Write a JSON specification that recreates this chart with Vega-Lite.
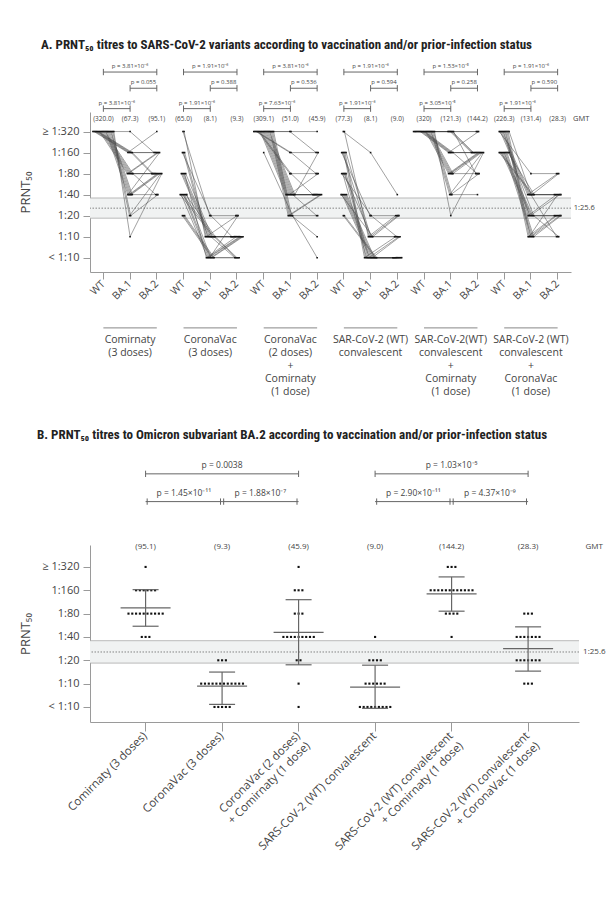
{
"$schema":"https://vega.github.io/schema/vega-lite/v6.json",
"background":"white",
"padding":{"left":19,"top":39,"right":4,"bottom":4},
"config":{
 "font":"Open Sans",
 "view":{"stroke":null},
 "axis":{"domainColor":"#9a9a9a","tickColor":"#9a9a9a","labelColor":"#444","titleColor":"#444","labelFont":"Open Sans","titleFont":"Open Sans","titleFontWeight":"normal","grid":false,"labelFontSize":11,"titleFontSize":13},
 "title":{"font":"Roboto Condensed","fontWeight":"bold","fontSize":13,"color":"#222","anchor":"start","frame":"group"},
 "text":{"font":"Open Sans","color":"#444"}
},
"spacing":30,
"resolve":{"scale":{"xOffset":"independent","x":"independent","y":"independent"}},
"datasets":{
"tit":[
{"i":1,"k":"1 WT","t":320},{"i":1,"k":"1 BA.1","t":320},{"i":1,"k":"1 BA.2","t":160},
{"i":2,"k":"1 WT","t":320},{"i":2,"k":"1 BA.1","t":160},{"i":2,"k":"1 BA.2","t":320},
{"i":3,"k":"1 WT","t":320},{"i":3,"k":"1 BA.1","t":160},{"i":3,"k":"1 BA.2","t":160},
{"i":4,"k":"1 WT","t":320},{"i":4,"k":"1 BA.1","t":160},{"i":4,"k":"1 BA.2","t":160},
{"i":5,"k":"1 WT","t":320},{"i":5,"k":"1 BA.1","t":160},{"i":5,"k":"1 BA.2","t":80},
{"i":6,"k":"1 WT","t":320},{"i":6,"k":"1 BA.1","t":160},{"i":6,"k":"1 BA.2","t":80},
{"i":7,"k":"1 WT","t":320},{"i":7,"k":"1 BA.1","t":80},{"i":7,"k":"1 BA.2","t":160},
{"i":8,"k":"1 WT","t":320},{"i":8,"k":"1 BA.1","t":80},{"i":8,"k":"1 BA.2","t":160},
{"i":9,"k":"1 WT","t":320},{"i":9,"k":"1 BA.1","t":80},{"i":9,"k":"1 BA.2","t":80},
{"i":10,"k":"1 WT","t":320},{"i":10,"k":"1 BA.1","t":80},{"i":10,"k":"1 BA.2","t":80},
{"i":11,"k":"1 WT","t":320},{"i":11,"k":"1 BA.1","t":80},{"i":11,"k":"1 BA.2","t":80},
{"i":12,"k":"1 WT","t":320},{"i":12,"k":"1 BA.1","t":80},{"i":12,"k":"1 BA.2","t":40},
{"i":13,"k":"1 WT","t":320},{"i":13,"k":"1 BA.1","t":40},{"i":13,"k":"1 BA.2","t":160},
{"i":14,"k":"1 WT","t":320},{"i":14,"k":"1 BA.1","t":40},{"i":14,"k":"1 BA.2","t":80},
{"i":15,"k":"1 WT","t":320},{"i":15,"k":"1 BA.1","t":40},{"i":15,"k":"1 BA.2","t":80},
{"i":16,"k":"1 WT","t":320},{"i":16,"k":"1 BA.1","t":40},{"i":16,"k":"1 BA.2","t":80},
{"i":17,"k":"1 WT","t":320},{"i":17,"k":"1 BA.1","t":40},{"i":17,"k":"1 BA.2","t":40},
{"i":18,"k":"1 WT","t":320},{"i":18,"k":"1 BA.1","t":20},{"i":18,"k":"1 BA.2","t":80},
{"i":19,"k":"1 WT","t":320},{"i":19,"k":"1 BA.1","t":20},{"i":19,"k":"1 BA.2","t":40},
{"i":20,"k":"1 WT","t":320},{"i":20,"k":"1 BA.1","t":10},{"i":20,"k":"1 BA.2","t":80},
{"i":21,"k":"2 WT","t":320},{"i":21,"k":"2 BA.1","t":20},{"i":21,"k":"2 BA.2","t":20},
{"i":22,"k":"2 WT","t":320},{"i":22,"k":"2 BA.1","t":10},{"i":22,"k":"2 BA.2","t":10},
{"i":23,"k":"2 WT","t":160},{"i":23,"k":"2 BA.1","t":20},{"i":23,"k":"2 BA.2","t":10},
{"i":24,"k":"2 WT","t":160},{"i":24,"k":"2 BA.1","t":10},{"i":24,"k":"2 BA.2","t":20},
{"i":25,"k":"2 WT","t":160},{"i":25,"k":"2 BA.1","t":10},{"i":25,"k":"2 BA.2","t":10},
{"i":26,"k":"2 WT","t":80},{"i":26,"k":"2 BA.1","t":10},{"i":26,"k":"2 BA.2","t":10},
{"i":27,"k":"2 WT","t":80},{"i":27,"k":"2 BA.1","t":10},{"i":27,"k":"2 BA.2","t":10},
{"i":28,"k":"2 WT","t":80},{"i":28,"k":"2 BA.1","t":10},{"i":28,"k":"2 BA.2","t":5},
{"i":29,"k":"2 WT","t":80},{"i":29,"k":"2 BA.1","t":5},{"i":29,"k":"2 BA.2","t":10},
{"i":30,"k":"2 WT","t":80},{"i":30,"k":"2 BA.1","t":10},{"i":30,"k":"2 BA.2","t":10},
{"i":31,"k":"2 WT","t":40},{"i":31,"k":"2 BA.1","t":10},{"i":31,"k":"2 BA.2","t":10},
{"i":32,"k":"2 WT","t":40},{"i":32,"k":"2 BA.1","t":5},{"i":32,"k":"2 BA.2","t":10},
{"i":33,"k":"2 WT","t":40},{"i":33,"k":"2 BA.1","t":10},{"i":33,"k":"2 BA.2","t":5},
{"i":34,"k":"2 WT","t":40},{"i":34,"k":"2 BA.1","t":5},{"i":34,"k":"2 BA.2","t":10},
{"i":35,"k":"2 WT","t":40},{"i":35,"k":"2 BA.1","t":5},{"i":35,"k":"2 BA.2","t":20},
{"i":36,"k":"2 WT","t":40},{"i":36,"k":"2 BA.1","t":10},{"i":36,"k":"2 BA.2","t":5},
{"i":37,"k":"2 WT","t":40},{"i":37,"k":"2 BA.1","t":5},{"i":37,"k":"2 BA.2","t":10},
{"i":38,"k":"2 WT","t":20},{"i":38,"k":"2 BA.1","t":5},{"i":38,"k":"2 BA.2","t":10},
{"i":39,"k":"2 WT","t":20},{"i":39,"k":"2 BA.1","t":5},{"i":39,"k":"2 BA.2","t":5},
{"i":40,"k":"2 WT","t":20},{"i":40,"k":"2 BA.1","t":5},{"i":40,"k":"2 BA.2","t":5},
{"i":41,"k":"3 WT","t":320},{"i":41,"k":"3 BA.1","t":320},{"i":41,"k":"3 BA.2","t":160},
{"i":42,"k":"3 WT","t":320},{"i":42,"k":"3 BA.1","t":320},{"i":42,"k":"3 BA.2","t":320},
{"i":43,"k":"3 WT","t":320},{"i":43,"k":"3 BA.1","t":160},{"i":43,"k":"3 BA.2","t":160},
{"i":44,"k":"3 WT","t":320},{"i":44,"k":"3 BA.1","t":160},{"i":44,"k":"3 BA.2","t":80},
{"i":45,"k":"3 WT","t":320},{"i":45,"k":"3 BA.1","t":80},{"i":45,"k":"3 BA.2","t":80},
{"i":46,"k":"3 WT","t":320},{"i":46,"k":"3 BA.1","t":80},{"i":46,"k":"3 BA.2","t":40},
{"i":47,"k":"3 WT","t":320},{"i":47,"k":"3 BA.1","t":40},{"i":47,"k":"3 BA.2","t":40},
{"i":48,"k":"3 WT","t":320},{"i":48,"k":"3 BA.1","t":40},{"i":48,"k":"3 BA.2","t":40},
{"i":49,"k":"3 WT","t":320},{"i":49,"k":"3 BA.1","t":40},{"i":49,"k":"3 BA.2","t":40},
{"i":50,"k":"3 WT","t":320},{"i":50,"k":"3 BA.1","t":40},{"i":50,"k":"3 BA.2","t":80},
{"i":51,"k":"3 WT","t":320},{"i":51,"k":"3 BA.1","t":40},{"i":51,"k":"3 BA.2","t":40},
{"i":52,"k":"3 WT","t":320},{"i":52,"k":"3 BA.1","t":40},{"i":52,"k":"3 BA.2","t":40},
{"i":53,"k":"3 WT","t":320},{"i":53,"k":"3 BA.1","t":40},{"i":53,"k":"3 BA.2","t":20},
{"i":54,"k":"3 WT","t":320},{"i":54,"k":"3 BA.1","t":40},{"i":54,"k":"3 BA.2","t":40},
{"i":55,"k":"3 WT","t":320},{"i":55,"k":"3 BA.1","t":40},{"i":55,"k":"3 BA.2","t":160},
{"i":56,"k":"3 WT","t":320},{"i":56,"k":"3 BA.1","t":20},{"i":56,"k":"3 BA.2","t":40},
{"i":57,"k":"3 WT","t":320},{"i":57,"k":"3 BA.1","t":20},{"i":57,"k":"3 BA.2","t":40},
{"i":58,"k":"3 WT","t":320},{"i":58,"k":"3 BA.1","t":20},{"i":58,"k":"3 BA.2","t":20},
{"i":59,"k":"3 WT","t":320},{"i":59,"k":"3 BA.1","t":20},{"i":59,"k":"3 BA.2","t":10},
{"i":60,"k":"3 WT","t":160},{"i":60,"k":"3 BA.1","t":20},{"i":60,"k":"3 BA.2","t":5},
{"i":61,"k":"4 WT","t":320},{"i":61,"k":"4 BA.1","t":160},{"i":61,"k":"4 BA.2","t":40},
{"i":62,"k":"4 WT","t":320},{"i":62,"k":"4 BA.1","t":10},{"i":62,"k":"4 BA.2","t":20},
{"i":63,"k":"4 WT","t":160},{"i":63,"k":"4 BA.1","t":20},{"i":63,"k":"4 BA.2","t":20},
{"i":64,"k":"4 WT","t":160},{"i":64,"k":"4 BA.1","t":10},{"i":64,"k":"4 BA.2","t":10},
{"i":65,"k":"4 WT","t":160},{"i":65,"k":"4 BA.1","t":5},{"i":65,"k":"4 BA.2","t":10},
{"i":66,"k":"4 WT","t":160},{"i":66,"k":"4 BA.1","t":5},{"i":66,"k":"4 BA.2","t":5},
{"i":67,"k":"4 WT","t":160},{"i":67,"k":"4 BA.1","t":10},{"i":67,"k":"4 BA.2","t":20},
{"i":68,"k":"4 WT","t":80},{"i":68,"k":"4 BA.1","t":20},{"i":68,"k":"4 BA.2","t":10},
{"i":69,"k":"4 WT","t":80},{"i":69,"k":"4 BA.1","t":5},{"i":69,"k":"4 BA.2","t":5},
{"i":70,"k":"4 WT","t":80},{"i":70,"k":"4 BA.1","t":10},{"i":70,"k":"4 BA.2","t":10},
{"i":71,"k":"4 WT","t":80},{"i":71,"k":"4 BA.1","t":5},{"i":71,"k":"4 BA.2","t":5},
{"i":72,"k":"4 WT","t":80},{"i":72,"k":"4 BA.1","t":5},{"i":72,"k":"4 BA.2","t":10},
{"i":73,"k":"4 WT","t":40},{"i":73,"k":"4 BA.1","t":10},{"i":73,"k":"4 BA.2","t":20},
{"i":74,"k":"4 WT","t":40},{"i":74,"k":"4 BA.1","t":5},{"i":74,"k":"4 BA.2","t":5},
{"i":75,"k":"4 WT","t":40},{"i":75,"k":"4 BA.1","t":5},{"i":75,"k":"4 BA.2","t":5},
{"i":76,"k":"4 WT","t":40},{"i":76,"k":"4 BA.1","t":5},{"i":76,"k":"4 BA.2","t":10},
{"i":77,"k":"4 WT","t":40},{"i":77,"k":"4 BA.1","t":5},{"i":77,"k":"4 BA.2","t":5},
{"i":78,"k":"4 WT","t":40},{"i":78,"k":"4 BA.1","t":5},{"i":78,"k":"4 BA.2","t":5},
{"i":79,"k":"4 WT","t":20},{"i":79,"k":"4 BA.1","t":5},{"i":79,"k":"4 BA.2","t":5},
{"i":80,"k":"4 WT","t":20},{"i":80,"k":"4 BA.1","t":5},{"i":80,"k":"4 BA.2","t":5},
{"i":81,"k":"5 WT","t":320},{"i":81,"k":"5 BA.1","t":320},{"i":81,"k":"5 BA.2","t":320},
{"i":82,"k":"5 WT","t":320},{"i":82,"k":"5 BA.1","t":320},{"i":82,"k":"5 BA.2","t":320},
{"i":83,"k":"5 WT","t":320},{"i":83,"k":"5 BA.1","t":320},{"i":83,"k":"5 BA.2","t":160},
{"i":84,"k":"5 WT","t":320},{"i":84,"k":"5 BA.1","t":320},{"i":84,"k":"5 BA.2","t":160},
{"i":85,"k":"5 WT","t":320},{"i":85,"k":"5 BA.1","t":320},{"i":85,"k":"5 BA.2","t":160},
{"i":86,"k":"5 WT","t":320},{"i":86,"k":"5 BA.1","t":320},{"i":86,"k":"5 BA.2","t":80},
{"i":87,"k":"5 WT","t":320},{"i":87,"k":"5 BA.1","t":160},{"i":87,"k":"5 BA.2","t":320},
{"i":88,"k":"5 WT","t":320},{"i":88,"k":"5 BA.1","t":160},{"i":88,"k":"5 BA.2","t":160},
{"i":89,"k":"5 WT","t":320},{"i":89,"k":"5 BA.1","t":160},{"i":89,"k":"5 BA.2","t":160},
{"i":90,"k":"5 WT","t":320},{"i":90,"k":"5 BA.1","t":160},{"i":90,"k":"5 BA.2","t":160},
{"i":91,"k":"5 WT","t":320},{"i":91,"k":"5 BA.1","t":160},{"i":91,"k":"5 BA.2","t":80},
{"i":92,"k":"5 WT","t":320},{"i":92,"k":"5 BA.1","t":80},{"i":92,"k":"5 BA.2","t":160},
{"i":93,"k":"5 WT","t":320},{"i":93,"k":"5 BA.1","t":80},{"i":93,"k":"5 BA.2","t":160},
{"i":94,"k":"5 WT","t":320},{"i":94,"k":"5 BA.1","t":80},{"i":94,"k":"5 BA.2","t":160},
{"i":95,"k":"5 WT","t":320},{"i":95,"k":"5 BA.1","t":80},{"i":95,"k":"5 BA.2","t":80},
{"i":96,"k":"5 WT","t":320},{"i":96,"k":"5 BA.1","t":80},{"i":96,"k":"5 BA.2","t":160},
{"i":97,"k":"5 WT","t":320},{"i":97,"k":"5 BA.1","t":40},{"i":97,"k":"5 BA.2","t":160},
{"i":98,"k":"5 WT","t":320},{"i":98,"k":"5 BA.1","t":40},{"i":98,"k":"5 BA.2","t":80},
{"i":99,"k":"5 WT","t":320},{"i":99,"k":"5 BA.1","t":40},{"i":99,"k":"5 BA.2","t":40},
{"i":100,"k":"5 WT","t":320},{"i":100,"k":"5 BA.1","t":20},{"i":100,"k":"5 BA.2","t":160},
{"i":101,"k":"6 WT","t":320},{"i":101,"k":"6 BA.1","t":80},{"i":101,"k":"6 BA.2","t":80},
{"i":102,"k":"6 WT","t":320},{"i":102,"k":"6 BA.1","t":40},{"i":102,"k":"6 BA.2","t":80},
{"i":103,"k":"6 WT","t":320},{"i":103,"k":"6 BA.1","t":40},{"i":103,"k":"6 BA.2","t":40},
{"i":104,"k":"6 WT","t":320},{"i":104,"k":"6 BA.1","t":40},{"i":104,"k":"6 BA.2","t":40},
{"i":105,"k":"6 WT","t":320},{"i":105,"k":"6 BA.1","t":20},{"i":105,"k":"6 BA.2","t":40},
{"i":106,"k":"6 WT","t":320},{"i":106,"k":"6 BA.1","t":20},{"i":106,"k":"6 BA.2","t":20},
{"i":107,"k":"6 WT","t":320},{"i":107,"k":"6 BA.1","t":10},{"i":107,"k":"6 BA.2","t":20},
{"i":108,"k":"6 WT","t":320},{"i":108,"k":"6 BA.1","t":10},{"i":108,"k":"6 BA.2","t":40},
{"i":109,"k":"6 WT","t":320},{"i":109,"k":"6 BA.1","t":10},{"i":109,"k":"6 BA.2","t":20},
{"i":110,"k":"6 WT","t":320},{"i":110,"k":"6 BA.1","t":40},{"i":110,"k":"6 BA.2","t":10},
{"i":111,"k":"6 WT","t":160},{"i":111,"k":"6 BA.1","t":40},{"i":111,"k":"6 BA.2","t":80},
{"i":112,"k":"6 WT","t":160},{"i":112,"k":"6 BA.1","t":40},{"i":112,"k":"6 BA.2","t":40},
{"i":113,"k":"6 WT","t":160},{"i":113,"k":"6 BA.1","t":20},{"i":113,"k":"6 BA.2","t":40},
{"i":114,"k":"6 WT","t":160},{"i":114,"k":"6 BA.1","t":20},{"i":114,"k":"6 BA.2","t":20},
{"i":115,"k":"6 WT","t":160},{"i":115,"k":"6 BA.1","t":20},{"i":115,"k":"6 BA.2","t":20},
{"i":116,"k":"6 WT","t":160},{"i":116,"k":"6 BA.1","t":10},{"i":116,"k":"6 BA.2","t":20},
{"i":117,"k":"6 WT","t":160},{"i":117,"k":"6 BA.1","t":10},{"i":117,"k":"6 BA.2","t":10},
{"i":118,"k":"6 WT","t":160},{"i":118,"k":"6 BA.1","t":10},{"i":118,"k":"6 BA.2","t":20},
{"i":119,"k":"6 WT","t":160},{"i":119,"k":"6 BA.1","t":40},{"i":119,"k":"6 BA.2","t":40},
{"i":120,"k":"6 WT","t":160},{"i":120,"k":"6 BA.1","t":20},{"i":120,"k":"6 BA.2","t":10}
],
"gmtA":[
{"k":"1 WT","g":"(320.0)"},{"k":"1 BA.1","g":"(67.3)"},{"k":"1 BA.2","g":"(95.1)"},
{"k":"2 WT","g":"(65.0)"},{"k":"2 BA.1","g":"(8.1)"},{"k":"2 BA.2","g":"(9.3)"},
{"k":"3 WT","g":"(309.1)"},{"k":"3 BA.1","g":"(51.0)"},{"k":"3 BA.2","g":"(45.9)"},
{"k":"4 WT","g":"(77.3)"},{"k":"4 BA.1","g":"(8.1)"},{"k":"4 BA.2","g":"(9.0)"},
{"k":"5 WT","g":"(320)"},{"k":"5 BA.1","g":"(121.3)"},{"k":"5 BA.2","g":"(144.2)"},
{"k":"6 WT","g":"(226.3)"},{"k":"6 BA.1","g":"(131.4)"},{"k":"6 BA.2","g":"(28.3)"}
],
"grpA":[
{"a":"1 WT","m":"1 BA.1","b":"1 BA.2","txt":"Comirnaty\n(3 doses)"},
{"a":"2 WT","m":"2 BA.1","b":"2 BA.2","txt":"CoronaVac\n(3 doses)"},
{"a":"3 WT","m":"3 BA.1","b":"3 BA.2","txt":"CoronaVac\n(2 doses)\n+\nComirnaty\n(1 dose)"},
{"a":"4 WT","m":"4 BA.1","b":"4 BA.2","txt":"SAR-CoV-2 (WT)\nconvalescent"},
{"a":"5 WT","m":"5 BA.1","b":"5 BA.2","txt":"SAR-CoV-2(WT)\nconvalescent\n+\nComirnaty\n(1 dose)"},
{"a":"6 WT","m":"6 BA.1","b":"6 BA.2","txt":"SAR-CoV-2 (WT)\nconvalescent\n+\nCoronaVac\n(1 dose)"}
],
"pA":[
{"tier":1,"a":"1 WT","b":"1 BA.2","p":"p = 3.81×10⁻⁶"},{"tier":2,"a":"1 BA.1","b":"1 BA.2","p":"p = 0.055"},{"tier":3,"a":"1 WT","b":"1 BA.1","p":"p = 3.81×10⁻⁶"},
{"tier":1,"a":"2 WT","b":"2 BA.2","p":"p = 1.91×10⁻⁶"},{"tier":2,"a":"2 BA.1","b":"2 BA.2","p":"p = 0.388"},{"tier":3,"a":"2 WT","b":"2 BA.1","p":"p = 1.91×10⁻⁶"},
{"tier":1,"a":"3 WT","b":"3 BA.2","p":"p = 3.81×10⁻⁶"},{"tier":2,"a":"3 BA.1","b":"3 BA.2","p":"p = 0.536"},{"tier":3,"a":"3 WT","b":"3 BA.1","p":"p = 7.63×10⁻⁶"},
{"tier":1,"a":"4 WT","b":"4 BA.2","p":"p = 1.91×10⁻⁶"},{"tier":2,"a":"4 BA.1","b":"4 BA.2","p":"p = 0.594"},{"tier":3,"a":"4 WT","b":"4 BA.1","p":"p = 1.91×10⁻⁶"},
{"tier":1,"a":"5 WT","b":"5 BA.2","p":"p = 1.53×10⁻⁵"},{"tier":2,"a":"5 BA.1","b":"5 BA.2","p":"p = 0.258"},{"tier":3,"a":"5 WT","b":"5 BA.1","p":"p = 3.05×10⁻⁵"},
{"tier":1,"a":"6 WT","b":"6 BA.2","p":"p = 1.91×10⁻⁶"},{"tier":2,"a":"6 BA.1","b":"6 BA.2","p":"p = 0.590"},{"tier":3,"a":"6 WT","b":"6 BA.1","p":"p = 1.91×10⁻⁶"}
],
"gmtB":[
{"k":"1 BA.2","g":"(95.1)"},{"k":"2 BA.2","g":"(9.3)"},{"k":"3 BA.2","g":"(45.9)"},
{"k":"4 BA.2","g":"(9.0)"},{"k":"5 BA.2","g":"(144.2)"},{"k":"6 BA.2","g":"(28.3)"}
],
"ci":[
{"k":"1 BA.2","gmt":95.1,"lo":55,"hi":163},
{"k":"2 BA.2","gmt":9.3,"lo":5.4,"hi":14.1},
{"k":"3 BA.2","gmt":45.9,"lo":17.5,"hi":121},
{"k":"4 BA.2","gmt":9.0,"lo":4.8,"hi":17.3},
{"k":"5 BA.2","gmt":144.2,"lo":86,"hi":238},
{"k":"6 BA.2","gmt":28.3,"lo":14.5,"hi":54}
],
"pB":[
{"tier":1,"a":"1 BA.2","b":"3 BA.2","p":"p = 0.0038"},
{"tier":1,"a":"4 BA.2","b":"6 BA.2","p":"p = 1.03×10⁻⁵"},
{"tier":2,"a":"1 BA.2","b":"2 BA.2","p":"p = 1.45×10⁻¹¹"},
{"tier":2,"a":"2 BA.2","b":"3 BA.2","p":"p = 1.88×10⁻⁷"},
{"tier":2,"a":"4 BA.2","b":"5 BA.2","p":"p = 2.90×10⁻¹¹"},
{"tier":2,"a":"5 BA.2","b":"6 BA.2","p":"p = 4.37×10⁻⁹"}
],
"band":[{"lo":18.4,"hi":35.8,"cut":25.6}]
},
"vconcat":[
{
 "width":481,"height":160,
 "title":{"text":"A. PRNT₅₀ titres to SARS-CoV-2 variants according to vaccination and/or prior-infection status","dx":-49,"offset":11},
 "layer":[
  {"data":{"name":"band"},"mark":{"type":"rect","fill":"#f0f2f2"},
   "encoding":{"y":{"field":"lo","type":"quantitative","title":"PRNT₅₀"},"y2":{"field":"hi"}}},
  {"data":{"name":"band"},"mark":{"type":"rule","stroke":"#aaaaaa","strokeWidth":0.8},
   "encoding":{"y":{"field":"lo","type":"quantitative","title":"PRNT₅₀"}}},
  {"data":{"name":"band"},"mark":{"type":"rule","stroke":"#aaaaaa","strokeWidth":0.8},
   "encoding":{"y":{"field":"hi","type":"quantitative","title":"PRNT₅₀"}}},
  {"data":{"name":"band"},"mark":{"type":"rule","stroke":"#555","strokeWidth":0.7,"strokeDash":[1.5,1.5]},
   "encoding":{"y":{"field":"cut","type":"quantitative","title":"PRNT₅₀"}}},
  {"data":{"name":"band"},"mark":{"type":"text","fontSize":7.5,"align":"left","dx":16,"baseline":"middle"},
   "encoding":{"x":{"datum":"6 BA.2","type":"nominal"},"y":{"field":"cut","type":"quantitative","title":"PRNT₅₀"},"text":{"value":"1:25.6"}}},
  {"data":{"name":"tit"},
   "transform":[
    {"window":[{"op":"row_number","as":"n"}]},
    {"joinaggregate":[{"op":"count","as":"one"}],"groupby":["i","k"]},
    {"stack":"one","groupby":["k","t"],"offset":"center","sort":[{"field":"i","order":"ascending"}],"as":["s0","s1"]}
   ],
   "encoding":{
    "x":{"field":"k","type":"nominal","title":null,
     "scale":{"type":"band","paddingInner":0,"paddingOuter":0,"domain":["1 WT","1 BA.1","1 BA.2","2 WT","2 BA.1","2 BA.2","3 WT","3 BA.1","3 BA.2","4 WT","4 BA.1","4 BA.2","5 WT","5 BA.1","5 BA.2","6 WT","6 BA.1","6 BA.2"]},
     "axis":{"title":null,"labelAngle":-45,"labelAlign":"right","labelBaseline":"middle","labelExpr":"slice(datum.value,2)","labelFontSize":10.5,"tickSize":7,"labelPadding":3,"bandPosition":0.5}},
    "xOffset":{"field":"s0","type":"quantitative","scale":{"domain":[-2.64,21.63]}},
    "y":{"field":"t","type":"quantitative","title":"PRNT₅₀",
     "scale":{"type":"log","domain":[3.12,609.6],"nice":false},
     "axis":{"title":"PRNT₅₀","values":[5,10,20,40,80,160,320],"labelExpr":"datum.value==320?'≥ 1:320':datum.value==5?'< 1:10':'1:'+datum.value","tickSize":7,"labelPadding":4,"titlePadding":9}}
   },
   "layer":[
    {"mark":{"type":"line","stroke":"#444","strokeWidth":0.5},
     "encoding":{"detail":{"field":"i","type":"nominal"},"order":{"field":"n","type":"quantitative"}}},
    {"mark":{"type":"point","shape":"square","filled":true,"size":2.5,"color":"#111","opacity":1}}
   ]},
  {"data":{"name":"gmtA"},"mark":{"type":"text","fontSize":6.5,"baseline":"middle"},
   "encoding":{"x":{"field":"k","type":"nominal","title":null},"y":{"datum":485,"type":"quantitative"},"text":{"field":"g"}}},
  {"data":{"name":"band"},"mark":{"type":"text","fontSize":7.5,"baseline":"middle","dx":23.5},
   "encoding":{"x":{"datum":"6 BA.2","type":"nominal"},"y":{"datum":485,"type":"quantitative"},"text":{"value":"GMT"}}},
  {"data":{"name":"grpA"},"mark":{"type":"rule","stroke":"#888","strokeWidth":1},
   "encoding":{"x":{"field":"a","type":"nominal","title":null,"bandPosition":0.5},"x2":{"field":"b","bandPosition":0.5},"y":{"datum":0.494,"type":"quantitative"}}},
  {"data":{"name":"grpA"},"mark":{"type":"text","fontSize":10.5,"baseline":"top","lineBreak":"\n","lineHeight":13},
   "encoding":{"x":{"field":"m","type":"nominal","title":null},"y":{"datum":0.385,"type":"quantitative"},"text":{"field":"txt"}}},
  {"data":{"name":"pA"},"transform":[{"filter":"datum.tier==1"}],
   "encoding":{"y":{"datum":2276,"type":"quantitative"}},
   "layer":[
    {"mark":{"type":"rule","stroke":"#666","strokeWidth":1},"encoding":{"x":{"field":"a","type":"nominal","title":null,"bandPosition":0.5},"x2":{"field":"b","bandPosition":0.5}}},
    {"mark":{"type":"point","shape":"M0,-1V1","size":40,"stroke":"#666","strokeWidth":1,"filled":false,"opacity":1},"encoding":{"x":{"field":"a","type":"nominal","title":null}}},
    {"mark":{"type":"point","shape":"M0,-1V1","size":40,"stroke":"#666","strokeWidth":1,"filled":false,"opacity":1},"encoding":{"x":{"field":"b","type":"nominal","title":null}}},
    {"mark":{"type":"text","fontSize":6,"dx":26.7,"dy":-4,"baseline":"alphabetic"},"encoding":{"x":{"field":"a","type":"nominal","title":null},"text":{"field":"p"}}}
   ]},
  {"data":{"name":"pA"},"transform":[{"filter":"datum.tier==2"}],
   "encoding":{"y":{"datum":1334,"type":"quantitative"}},
   "layer":[
    {"mark":{"type":"rule","stroke":"#666","strokeWidth":1},"encoding":{"x":{"field":"a","type":"nominal","title":null,"bandPosition":0.5},"x2":{"field":"b","bandPosition":0.5}}},
    {"mark":{"type":"point","shape":"M0,-1V1","size":40,"stroke":"#666","strokeWidth":1,"filled":false,"opacity":1},"encoding":{"x":{"field":"a","type":"nominal","title":null}}},
    {"mark":{"type":"point","shape":"M0,-1V1","size":40,"stroke":"#666","strokeWidth":1,"filled":false,"opacity":1},"encoding":{"x":{"field":"b","type":"nominal","title":null}}},
    {"mark":{"type":"text","fontSize":6,"dx":13.4,"dy":-4,"baseline":"alphabetic"},"encoding":{"x":{"field":"a","type":"nominal","title":null},"text":{"field":"p"}}}
   ]},
  {"data":{"name":"pA"},"transform":[{"filter":"datum.tier==3"}],
   "encoding":{"y":{"datum":681,"type":"quantitative"}},
   "layer":[
    {"mark":{"type":"rule","stroke":"#666","strokeWidth":1},"encoding":{"x":{"field":"a","type":"nominal","title":null,"bandPosition":0.5},"x2":{"field":"b","bandPosition":0.5}}},
    {"mark":{"type":"point","shape":"M0,-1V1","size":40,"stroke":"#666","strokeWidth":1,"filled":false,"opacity":1},"encoding":{"x":{"field":"a","type":"nominal","title":null}}},
    {"mark":{"type":"point","shape":"M0,-1V1","size":40,"stroke":"#666","strokeWidth":1,"filled":false,"opacity":1},"encoding":{"x":{"field":"b","type":"nominal","title":null}}},
    {"mark":{"type":"text","fontSize":6,"dx":13.4,"dy":-4,"baseline":"alphabetic"},"encoding":{"x":{"field":"a","type":"nominal","title":null},"text":{"field":"p"}}}
   ]}
 ]
},
{
 "width":489,"height":177,
 "title":{"text":"B. PRNT₅₀ titres to Omicron subvariant BA.2 according to vaccination and/or prior-infection status","dx":-53,"offset":19},
 "layer":[
  {"data":{"name":"band"},"mark":{"type":"rect","fill":"#f0f2f2"},
   "encoding":{"y":{"field":"lo","type":"quantitative","title":"PRNT₅₀"},"y2":{"field":"hi"}}},
  {"data":{"name":"band"},"mark":{"type":"rule","stroke":"#aaaaaa","strokeWidth":0.8},
   "encoding":{"y":{"field":"lo","type":"quantitative","title":"PRNT₅₀"}}},
  {"data":{"name":"band"},"mark":{"type":"rule","stroke":"#aaaaaa","strokeWidth":0.8},
   "encoding":{"y":{"field":"hi","type":"quantitative","title":"PRNT₅₀"}}},
  {"data":{"name":"band"},"mark":{"type":"rule","stroke":"#555","strokeWidth":0.7,"strokeDash":[1.5,1.5]},
   "encoding":{"y":{"field":"cut","type":"quantitative","title":"PRNT₅₀"}}},
  {"data":{"name":"band"},"mark":{"type":"text","fontSize":8,"align":"left","dx":55,"baseline":"middle"},
   "encoding":{"x":{"datum":"6 BA.2","type":"nominal"},"y":{"field":"cut","type":"quantitative","title":"PRNT₅₀"},"text":{"value":"1:25.6"}}},
  {"data":{"name":"tit"},
   "transform":[
    {"filter":"indexof(datum.k,'BA.2')>=0"},
    {"joinaggregate":[{"op":"count","as":"one"}],"groupby":["i","k"]},
    {"stack":"one","groupby":["k","t"],"offset":"center","sort":[{"field":"i","order":"ascending"}],"as":["s0","s1"]}
   ],
   "mark":{"type":"point","shape":"square","filled":true,"size":4.5,"color":"#111","opacity":1},
   "encoding":{
    "x":{"field":"k","type":"nominal","title":null,
     "scale":{"type":"band","paddingInner":0,"paddingOuter":0.196,"align":0.578,"domain":["1 BA.2","2 BA.2","3 BA.2","4 BA.2","5 BA.2","6 BA.2"]},
     "axis":{"title":null,"labelAngle":-45,"labelAlign":"right","labelBaseline":"middle","labelLimit":0,"labelFontSize":11.5,"tickSize":9,"labelPadding":3,"labelLineHeight":14,"bandPosition":0.5,
      "labelExpr":"datum.value=='1 BA.2'?'Comirnaty (3 doses)':datum.value=='2 BA.2'?'CoronaVac (3 doses)':datum.value=='3 BA.2'?['CoronaVac (2 doses)','+ Comirnaty (1 dose)']:datum.value=='4 BA.2'?'SARS-CoV-2 (WT) convalescent':datum.value=='5 BA.2'?['SARS-CoV-2 (WT) convalescent','+ Comirnaty (1 dose)']:['SARS-CoV-2 (WT) convalescent','+ CoronaVac (1 dose)']"}},
    "xOffset":{"field":"s0","type":"quantitative","scale":{"domain":[-4.566,15.566]}},
    "y":{"field":"t","type":"quantitative","title":"PRNT₅₀",
     "scale":{"type":"log","domain":[3.2,614],"nice":false},
     "axis":{"title":"PRNT₅₀","values":[5,10,20,40,80,160,320],"labelExpr":"datum.value==320?'≥ 1:320':datum.value==5?'< 1:10':'1:'+datum.value","tickSize":7,"labelPadding":4,"titlePadding":9}}
   }},
  {"data":{"name":"ci"},"mark":{"type":"rule","stroke":"#666","strokeWidth":1.2},
   "encoding":{"x":{"field":"k","type":"nominal","title":null},"y":{"field":"lo","type":"quantitative","title":"PRNT₅₀"},"y2":{"field":"hi"}}},
  {"data":{"name":"ci"},"mark":{"type":"tick","color":"#666","size":50,"thickness":1.2,"opacity":1,"orient":"horizontal"},
   "encoding":{"x":{"field":"k","type":"nominal","title":null},"y":{"field":"gmt","type":"quantitative","title":"PRNT₅₀"}}},
  {"data":{"name":"ci"},"mark":{"type":"tick","color":"#666","size":26,"thickness":1.2,"opacity":1,"orient":"horizontal"},
   "encoding":{"x":{"field":"k","type":"nominal","title":null},"y":{"field":"lo","type":"quantitative","title":"PRNT₅₀"}}},
  {"data":{"name":"ci"},"mark":{"type":"tick","color":"#666","size":26,"thickness":1.2,"opacity":1,"orient":"horizontal"},
   "encoding":{"x":{"field":"k","type":"nominal","title":null},"y":{"field":"hi","type":"quantitative","title":"PRNT₅₀"}}},
  {"data":{"name":"gmtB"},"mark":{"type":"text","fontSize":8,"baseline":"middle"},
   "encoding":{"x":{"field":"k","type":"nominal","title":null},"y":{"datum":584,"type":"quantitative"},"text":{"field":"g"}}},
  {"data":{"name":"band"},"mark":{"type":"text","fontSize":8,"baseline":"middle","dx":66},
   "encoding":{"x":{"datum":"6 BA.2","type":"nominal"},"y":{"datum":584,"type":"quantitative"},"text":{"value":"GMT"}}},
  {"data":{"name":"pB"},"transform":[{"filter":"datum.tier==1"}],
   "encoding":{"y":{"datum":5080,"type":"quantitative"}},
   "layer":[
    {"mark":{"type":"rule","stroke":"#666","strokeWidth":1},"encoding":{"x":{"field":"a","type":"nominal","title":null,"bandPosition":0.5},"x2":{"field":"b","bandPosition":0.5}}},
    {"mark":{"type":"point","shape":"M0,-1V1","size":40,"stroke":"#666","strokeWidth":1,"filled":false,"opacity":1},"encoding":{"x":{"field":"a","type":"nominal","title":null}}},
    {"mark":{"type":"point","shape":"M0,-1V1","size":40,"stroke":"#666","strokeWidth":1,"filled":false,"opacity":1},"encoding":{"x":{"field":"b","type":"nominal","title":null}}},
    {"mark":{"type":"text","fontSize":8.5,"dx":76.5,"dy":-6,"baseline":"alphabetic"},"encoding":{"x":{"field":"a","type":"nominal","title":null},"text":{"field":"p"}}}
   ]},
  {"data":{"name":"pB"},"transform":[{"filter":"datum.tier==2"}],
   "encoding":{"y":{"datum":2228,"type":"quantitative"}},
   "layer":[
    {"mark":{"type":"rule","stroke":"#666","strokeWidth":1},"encoding":{"x":{"field":"a","type":"nominal","title":null,"bandPosition":0.5},"x2":{"field":"b","bandPosition":0.5}}},
    {"mark":{"type":"point","shape":"M0.5,-1V1","size":40,"stroke":"#666","strokeWidth":1,"filled":false,"opacity":1},"encoding":{"x":{"field":"a","type":"nominal","title":null}}},
    {"mark":{"type":"point","shape":"M-0.5,-1V1","size":40,"stroke":"#666","strokeWidth":1,"filled":false,"opacity":1},"encoding":{"x":{"field":"b","type":"nominal","title":null}}},
    {"mark":{"type":"text","fontSize":8.5,"dx":38.3,"dy":-6,"baseline":"alphabetic"},"encoding":{"x":{"field":"a","type":"nominal","title":null},"text":{"field":"p"}}}
   ]}
 ]
}
]
}
